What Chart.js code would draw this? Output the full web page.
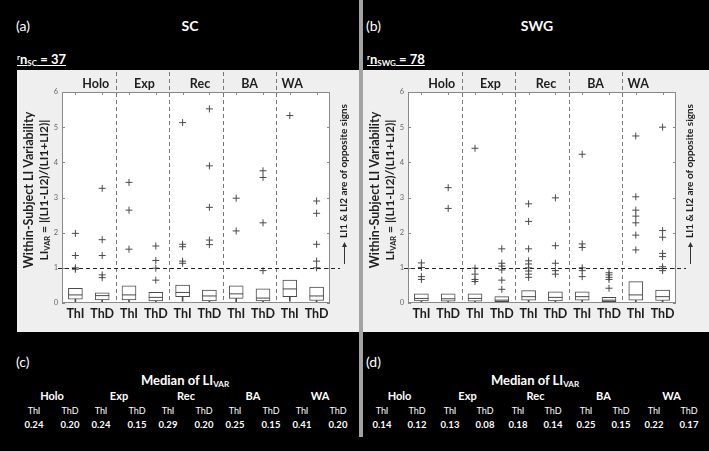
<!DOCTYPE html>
<html>
<head>
<meta charset="utf-8">
<script src="https://cdn.jsdelivr.net/npm/chart.js@4/dist/chart.umd.min.js"></script>
<style>
  html, body { margin:0; padding:0; }
  body { background:#000; width:709px; height:451px; overflow:hidden; position:relative; font-family:'Lato', sans-serif; color:#fff; }
  .abs { position:absolute; white-space:nowrap; }
  .c { transform:translate(-50%,-50%); }
  .l { transform:translateY(-50%); }
  canvas { position:absolute; }
  sub { font-size:0.62em; vertical-align:-0.25em; line-height:0; }
  sup { font-size:0.62em; vertical-align:0.45em; line-height:0; }
</style>
</head>
<body>
<div class="abs" style="left:359px;top:0;width:4px;height:437px;background:#a3a3a3"></div>
<canvas id="c1" width="342" height="262" style="left:17px;top:70px"></canvas>
<canvas id="c2" width="346" height="262" style="left:363px;top:70px"></canvas>
<div id="txt"></div>
<script>
// ---------- data ----------
const groups = ['Holo', 'Exp', 'Rec', 'BA', 'WA'];
const thresholds = ['ThI', 'ThD'];
const yTicks = [0, 1, 2, 3, 4, 5, 6];

// SC (n = 37)
const scQ1  = [0.11, 0.09, 0.09, 0.06, 0.18, 0.06, 0.13, 0.06, 0.18, 0.07];
const scMed = [0.23, 0.21, 0.23, 0.16, 0.30, 0.20, 0.26, 0.14, 0.40, 0.20];
const scQ3  = [0.42, 0.29, 0.49, 0.30, 0.51, 0.37, 0.49, 0.40, 0.65, 0.45];
const scLow = [0.02, 0.02, 0.01, 0.01, 0.05, 0.00, 0.03, 0.00, 0.05, 0.00];
const scOutliers = [
  [1.98, 1.35, 1.00, 0.96],
  [3.26, 1.80, 1.35, 0.80, 0.72],
  [3.43, 2.64, 1.53],
  [1.62, 1.21, 0.99, 0.65],
  [5.13, 1.67, 1.60, 1.19, 1.13],
  [5.52, 3.90, 2.72, 1.79, 1.66],
  [2.98, 2.05],
  [3.76, 3.57, 2.28, 0.92],
  [5.33],
  [2.90, 2.55, 1.67, 1.19, 1.00]
];
const scMedianTable = ['0.24', '0.20', '0.24', '0.15', '0.29', '0.20', '0.25', '0.15', '0.41', '0.20'];

// SWG (n = 78)
const swgQ1  = [0.06, 0.05, 0.05, 0.04, 0.08, 0.06, 0.08, 0.04, 0.08, 0.07];
const swgMed = [0.13, 0.12, 0.13, 0.08, 0.18, 0.16, 0.18, 0.08, 0.23, 0.18];
const swgQ3  = [0.26, 0.26, 0.26, 0.18, 0.35, 0.32, 0.32, 0.16, 0.61, 0.37];
const swgLow = [0.01, 0.01, 0.01, 0.00, 0.02, 0.01, 0.02, 0.00, 0.02, 0.01];
const swgOutliers = [
  [1.14, 1.01, 0.75, 0.67],
  [3.28, 2.69],
  [4.40, 0.99, 0.82, 0.67, 0.61],
  [1.54, 1.13, 1.05, 0.94, 0.65, 0.39],
  [2.82, 2.32, 1.54, 1.20, 1.11, 1.00, 0.91, 0.82, 0.73],
  [2.99, 1.63, 1.13, 0.92, 0.82],
  [4.23, 1.68, 1.58, 1.00, 0.92, 0.75],
  [0.86, 0.80, 0.73, 0.67, 0.42],
  [4.75, 3.02, 2.64, 2.47, 2.28, 1.93, 1.51],
  [5.00, 2.06, 1.87, 1.41, 1.32, 1.03, 0.98, 0.92]
];
const swgMedianTable = ['0.14', '0.12', '0.13', '0.08', '0.18', '0.14', '0.25', '0.15', '0.22', '0.17'];

const cutoff = 1;

// ---------- chart ----------
const FONT = "'Lato', sans-serif";
const labels = [];
groups.forEach(g => thresholds.forEach(t => labels.push(g + '|' + t)));

const decorPlugin = {
  id: 'decor',
  beforeDraw(chart) {
    const { ctx, chartArea: a, width, height } = chart;
    ctx.save();
    ctx.fillStyle = '#efefef';
    ctx.fillRect(0, 0, width, height);
    ctx.fillStyle = '#ffffff';
    ctx.fillRect(a.left, a.top, a.right - a.left, a.bottom - a.top);
    ctx.restore();
  },
  afterDraw(chart) {
    const { ctx, chartArea: a, scales } = chart;
    const xs = scales.x, ys = scales.y;
    ctx.save();
    // frame
    ctx.strokeStyle = '#8a8a8a';
    ctx.lineWidth = 1;
    ctx.strokeRect(Math.round(a.left) + 0.5, Math.round(a.top) + 0.5, Math.round(a.right - a.left) - 1, Math.round(a.bottom - a.top) - 1);
    // inward ticks
    ctx.beginPath();
    yTicks.forEach(v => {
      const y = Math.round(ys.getPixelForValue(v)) + 0.5;
      ctx.moveTo(a.left, y); ctx.lineTo(a.left + 3, y);
      ctx.moveTo(a.right, y); ctx.lineTo(a.right - 3, y);
    });
    labels.forEach((l, i) => {
      const x = Math.round(xs.getPixelForValue(i)) + 0.5;
      ctx.moveTo(x, a.top); ctx.lineTo(x, a.top + 3);
    });
    ctx.stroke();
    // group separators (vertical dashed)
    ctx.strokeStyle = '#777';
    ctx.setLineDash([4, 3]);
    ctx.beginPath();
    for (let g = 1; g < groups.length; g++) {
      const x = Math.round((xs.getPixelForValue(g * 2 - 1) + xs.getPixelForValue(g * 2)) / 2) + 0.5;
      ctx.moveTo(x, 2); ctx.lineTo(x, a.bottom);
    }
    ctx.stroke();
    // cutoff line
    ctx.strokeStyle = '#222';
    ctx.lineWidth = 1.2;
    ctx.setLineDash([4, 3]);
    ctx.beginPath();
    const yc = Math.round(ys.getPixelForValue(cutoff)) + 0.5;
    ctx.moveTo(a.left - 4, yc); ctx.lineTo(a.right + 10, yc);
    ctx.stroke();
    ctx.setLineDash([]);
    // group headers
    const shift = [7, 2, 4, 0, -11];
    ctx.fillStyle = '#1e1e1e';
    ctx.font = 'bold 12.5px ' + FONT;
    ctx.textAlign = 'center';
    ctx.textBaseline = 'middle';
    groups.forEach((g, i) => {
      const x = (xs.getPixelForValue(i * 2) + xs.getPixelForValue(i * 2 + 1)) / 2 + shift[i];
      ctx.fillText(g, x, 14);
    });
    // y title (two rotated lines)
    const cy = 120;
    ctx.save();
    ctx.translate(12, cy);
    ctx.rotate(-Math.PI / 2);
    ctx.font = 'bold 12.5px ' + FONT;
    ctx.fillText('Within-Subject LI Variability', 0, 0);
    ctx.restore();
    ctx.save();
    ctx.translate(27.5, cy);
    ctx.rotate(-Math.PI / 2);
    const segs = [['LI', 12, 0], ['VAR', 7.5, 3], [' = |(LI1-LI2)/(LI1+LI2)|', 12, 0]];
    let tw = 0;
    segs.forEach(s => { ctx.font = 'bold ' + s[1] + 'px ' + FONT; tw += ctx.measureText(s[0]).width; });
    let px = -tw / 2;
    ctx.textAlign = 'left';
    segs.forEach(s => {
      ctx.font = 'bold ' + s[1] + 'px ' + FONT;
      ctx.fillText(s[0], px, s[2]);
      px += ctx.measureText(s[0]).width;
    });
    ctx.restore();
    // right annotation
    const ax = a.right + 13.5;
    ctx.save();
    ctx.translate(ax, 101);
    ctx.rotate(-Math.PI / 2);
    ctx.textAlign = 'center';
    ctx.font = 'bold 10px ' + FONT;
    ctx.fillText('LI1 & LI2 are of opposite signs', 0, 0);
    ctx.restore();
    ctx.strokeStyle = '#333';
    ctx.lineWidth = 1;
    ctx.beginPath();
    ctx.moveTo(Math.round(ax) + 0.5, 194); ctx.lineTo(Math.round(ax) + 0.5, 175);
    ctx.stroke();
    ctx.fillStyle = '#333';
    ctx.beginPath();
    ctx.moveTo(Math.round(ax) + 0.5, 172); ctx.lineTo(Math.round(ax) - 2, 177); ctx.lineTo(Math.round(ax) + 3, 177);
    ctx.closePath(); ctx.fill();
    ctx.restore();
  }
};

function makeChart(id, q1, med, q3, low, outliers, rightPad) {
  const outPts = [];
  outliers.forEach((arr, i) => arr.forEach(v => outPts.push({ x: labels[i], y: v })));
  return new Chart(document.getElementById(id), {
    type: 'bar',
    data: {
      labels: labels,
      datasets: [
        { type: 'line', data: outPts, showLine: false, pointStyle: 'cross', pointRadius: 3.5,
          borderColor: '#4a4a4a', pointBorderColor: '#4a4a4a', pointBorderWidth: 1, borderWidth: 1, order: 0 },
        { type: 'line', data: med, showLine: false, pointStyle: 'line', pointRadius: 7,
          borderColor: '#4a4a4a', pointBorderColor: '#4a4a4a', pointBorderWidth: 1, borderWidth: 1, order: 1 },
        { type: 'bar', data: q1.map((v, i) => [v, q3[i]]), backgroundColor: '#ffffff', borderColor: '#4a4a4a',
          borderWidth: 1, borderSkipped: false, barThickness: 14, grouped: false, order: 2 },
        { type: 'bar', data: low.map((v, i) => [v, q1[i]]), backgroundColor: '#4a4a4a', borderWidth: 0,
          barThickness: 1, grouped: false, order: 3 }
      ]
    },
    options: {
      responsive: false,
      animation: false,
      events: [],
      layout: { padding: { left: 0, right: rightPad, top: 22, bottom: 0 } },
      plugins: { legend: { display: false }, tooltip: { enabled: false } },
      scales: {
        x: {
          type: 'category',
          grid: { display: false, drawTicks: false },
          border: { display: false },
          ticks: {
            autoSkip: false, maxRotation: 0, padding: 3, color: '#1e1e1e',
            font: { family: FONT, size: 12.5, weight: 'bold' },
            callback: (v, i) => labels[i].split('|')[1]
          },
          afterFit: s => { s.height = 29; }
        },
        y: {
          min: 0, max: 6,
          grid: { display: false, drawTicks: false },
          border: { display: false },
          ticks: { stepSize: 1, padding: 4, color: '#666', font: { family: FONT, size: 7.5 } },
          afterFit: s => { s.width = 45; }
        }
      }
    },
    plugins: [decorPlugin]
  });
}

makeChart('c1', scQ1, scMed, scQ3, scLow, scOutliers, 29);
makeChart('c2', swgQ1, swgMed, swgQ3, swgLow, swgOutliers, 33);

// ---------- texts ----------
const txt = document.getElementById('txt');
function put(html, x, y, css, cls) {
  const d = document.createElement('div');
  d.className = 'abs ' + (cls || 'c');
  d.style.left = x + 'px';
  d.style.top = y + 'px';
  d.style.cssText += css || '';
  d.innerHTML = html;
  txt.appendChild(d);
}
const panels = [
  { tag: '(a)', title: 'SC', sub: 'SC', n: 37, x0: 16, tx: 190, table: scMedianTable, col0: 34, pitch: 67, dx: 36, mx: 185 },
  { tag: '(b)', title: 'SWG', sub: 'SWG', n: 78, x0: 366, tx: 537, table: swgMedianTable, col0: 382, pitch: 68, dx: 35, mx: 535 }
];
const tags2 = ['(c)', '(d)'];
panels.forEach((p, k) => {
  put(p.tag, p.x0, 25, 'font-size:14px;', 'l');
  put(p.title, p.tx, 25, 'font-size:14px;font-weight:bold;');
  put('<sup>r</sup>n<sub>' + p.sub + '</sub> = ' + p.n, p.x0 + 1, 59,
      'font-size:13px;font-weight:bold;text-decoration:underline;', 'l');
  put(tags2[k], p.x0, 361, 'font-size:14px;', 'l');
  put('Median of LI<sub>VAR</sub>', p.mx, 380, 'font-size:13px;font-weight:bold;');
  groups.forEach((g, i) => {
    const xa = p.col0 + p.pitch * i, xb = xa + p.dx;
    put(g, (xa + xb) / 2, 395, 'font-size:11px;font-weight:bold;');
    thresholds.forEach((t, j) => {
      const x = j === 0 ? xa : xb;
      put(t, x, 409.5, 'font-size:9px;');
      put(p.table[i * 2 + j], x, 424, 'font-size:9.5px;font-weight:bold;');
    });
  });
});
</script>
</body>
</html>
